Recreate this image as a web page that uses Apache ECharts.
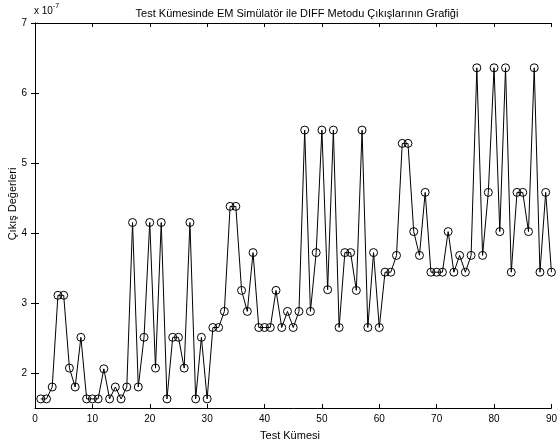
<!DOCTYPE html>
<html>
<head>
<meta charset="utf-8">
<script src="https://cdn.jsdelivr.net/npm/echarts@6/dist/echarts.min.js"></script>
<style>html,body{margin:0;padding:0;background:#fff}#c{width:560px;height:446px}</style>
</head>
<body>
<div id="c"></div>
<script>
// values in units of 1e-7
const testIndex = Array.from({length: 90}, (_, i) => i + 1);
const outputs = [1.63,1.63,1.80,3.11,3.11,2.07,1.80,2.51,1.63,1.63,
  1.63,2.06,1.63,1.80,1.63,1.80,4.15,1.80,2.51,4.15,
  2.07,4.15,1.63,2.51,2.51,2.07,4.15,1.63,2.51,1.63,
  2.65,2.65,2.88,4.38,4.38,3.18,2.88,3.72,2.65,2.65,
  2.65,3.18,2.65,2.88,2.65,2.88,5.47,2.88,3.72,5.47,
  3.19,5.47,2.65,3.72,3.72,3.18,5.47,2.65,3.72,2.65,
  3.44,3.44,3.68,5.28,5.28,4.02,3.68,4.58,3.44,3.44,
  3.44,4.02,3.44,3.68,3.44,3.68,6.36,3.68,4.58,6.36,
  4.02,6.36,3.44,4.58,4.58,4.02,6.36,3.44,4.58,3.44];
const xTicks = [0,10,20,30,40,50,60,70,80,90];
const yTicks = [2,3,4,5,6,7];
const titleText = 'Test Kümesinde EM Simülatör ile DIFF Metodu Çıkışlarının Grafiği';
const xName = 'Test Kümesi';
const yName = 'Çıkış Değerleri';

const FONT = 'Liberation Sans, Arial, sans-serif';
const chart = echarts.init(document.getElementById('c'), null, {renderer: 'canvas'});
const axisLine = {show: true, lineStyle: {color: '#000', width: 1}};
function xAx(pos, show) {
  return {
    type: 'value', position: pos, min: 0, max: 90,
    axisLine: axisLine,
    axisTick: {show: true, inside: true, length: 4, customValues: xTicks, lineStyle: {color: '#000'}},
    axisLabel: {show: show, customValues: xTicks, color: '#000', fontSize: 10, fontFamily: FONT, margin: 6},
    splitLine: {show: false}
  };
}
function yAx(pos, show) {
  return {
    type: 'value', position: pos, min: 1.5, max: 7,
    axisLine: axisLine,
    axisTick: {show: true, inside: true, length: 4, customValues: yTicks, lineStyle: {color: '#000'}},
    axisLabel: {show: show, customValues: yTicks, color: '#000', fontSize: 10, fontFamily: FONT, margin: 8},
    splitLine: {show: false}
  };
}
chart.setOption({
  animation: false,
  backgroundColor: '#fff',
  grid: {left: 35, right: 7, top: 23, bottom: 38},
  title: {
    text: titleText, left: 292, top: 3, textAlign: 'center',
    textStyle: {fontSize: 11, fontWeight: 'normal', color: '#000', fontFamily: FONT}
  },
  xAxis: [xAx('bottom', true), xAx('top', false)],
  yAxis: [yAx('left', true), yAx('right', false)],
  graphic: [
    {type: 'text', left: 34, top: 3, style: {
      text: '{a|x 10}{b|-7}', fill: '#000',
      rich: {a: {fontSize: 10, fontFamily: FONT, verticalAlign: 'bottom'},
             b: {fontSize: 7, fontFamily: FONT, verticalAlign: 'top', padding: [0,0,6,0]}}
    }},
    {type: 'text', x: 290, y: 436, style: {text: xName, fontSize: 11, fontFamily: FONT, fill: '#000', align: 'center', verticalAlign: 'middle'}},
    {type: 'text', x: 13, y: 204, rotation: Math.PI / 2, style: {text: yName, fontSize: 11, fontFamily: FONT, fill: '#000', align: 'center', verticalAlign: 'middle'}}
  ],
  series: [{
    type: 'line',
    data: testIndex.map((x, i) => [x, outputs[i]]),
    symbol: 'circle', symbolSize: 8,
    lineStyle: {color: '#000', width: 1},
    itemStyle: {color: 'none', borderColor: '#000', borderWidth: 1},
    showAllSymbol: true,
    emphasis: {disabled: true}
  }]
});
</script>
</body>
</html>
